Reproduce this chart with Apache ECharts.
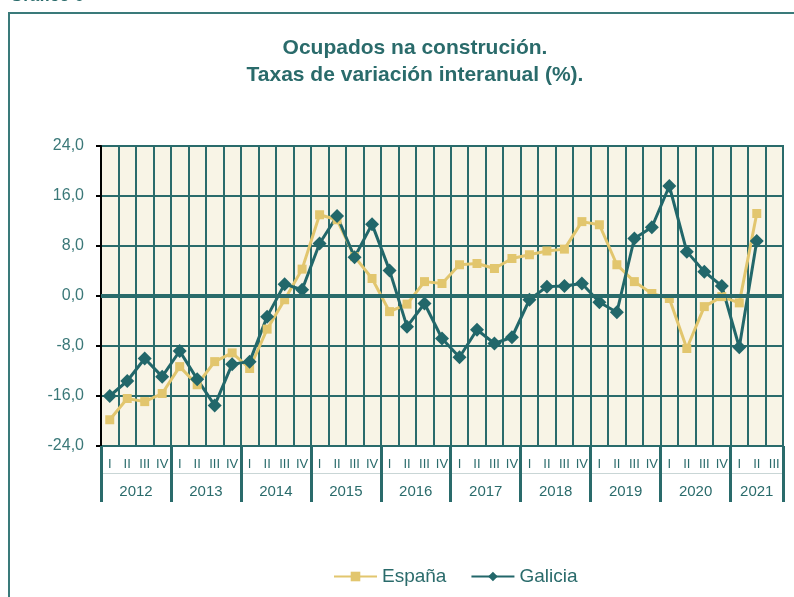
<!DOCTYPE html>
<html>
<head>
<meta charset="utf-8">
<script src="https://cdn.jsdelivr.net/npm/echarts@6/dist/echarts.min.js"></script>
<style>
  html, body { margin: 0; padding: 0; background: #fff; }
  #chart { width: 794px; height: 597px; }
</style>
</head>
<body>
<div id="chart"></div>
<script>
// datos trimestrais 2012 I - 2021 III
var years = ['2012', '2013', '2014', '2015', '2016', '2017', '2018', '2019', '2020', '2021'];
var quarters = ['I', 'II', 'III', 'IV'];
var yTicks = [-24, -16, -8, 0, 8, 16, 24];

var espana = [-19.8, -16.4, -16.9, -15.6, -11.3, -14.2, -10.5, -9.1, -11.6, -5.3,
  -0.6, 4.3, 13.0, 12.2, 6.3, 2.8, -2.5, -1.3, 2.3, 2.0,
  5.0, 5.2, 4.4, 6.0, 6.6, 7.2, 7.5, 11.9, 11.4, 5.0,
  2.3, 0.4, -0.4, -8.4, -1.7, -0.1, -1.1, 13.2];
var galicia = [-16.0, -13.6, -10.0, -12.9, -8.8, -13.3, -17.5, -10.9, -10.5, -3.3,
  1.9, 1.0, 8.4, 12.8, 6.2, 11.5, 4.1, -4.9, -1.2, -6.8,
  -9.8, -5.4, -7.6, -6.6, -0.6, 1.5, 1.6, 2.0, -1.0, -2.6,
  9.2, 11.0, 17.6, 7.1, 3.9, 1.6, -8.2, 8.8];

var teal = '#2a6b6b';
var galColor = '#22676a';
var espColor = '#e2c66e';

// categorias e limites dos anos
var cats = [];
years.forEach(function (y) {
  quarters.forEach(function (q) {
    if (y === '2021' && q === 'IV') return;
    cats.push(y + '-' + q);
  });
});
var yearBounds = [], yearMids = [];
years.forEach(function (y, i) {
  yearBounds.push(i * 4);
  var n = (y === '2021') ? 3 : 4;
  yearMids.push(i * 4 + n / 2);
});
yearBounds.push(cats.length);

var myChart = echarts.init(document.getElementById('chart'));

var option = {
  animation: false,
  textStyle: { fontFamily: 'Liberation Sans, Arial, sans-serif' },
  title: {
    text: 'Ocupados na construción.\nTaxas de variación interanual (%).',
    left: 410,
    textAlign: 'center',
    top: 30,
    textStyle: { color: teal, fontSize: 21, fontWeight: 'bold', lineHeight: 27 }
  },
  graphic: [
    {
      type: 'rect',
      shape: { x: 9, y: 13, width: 820, height: 700 },
      style: { fill: 'none', stroke: '#3a7a7a', lineWidth: 2 },
      silent: true
    },
    {
      type: 'text',
      left: 10,
      top: -12,
      style: { text: 'Gráfico 6', fill: teal, font: 'bold 17px Liberation Sans, Arial, sans-serif' },
      silent: true
    }
  ],
  legend: {
    bottom: 6,
    left: 328,
    itemWidth: 43,
    itemHeight: 12,
    itemGap: 24,
    textStyle: { color: teal, fontSize: 19 },
    data: ['España', 'Galicia']
  },
  grid: {
    left: 101,
    right: 11,
    top: 146,
    bottom: 151,
    show: true,
    backgroundColor: '#f8f4e6',
    borderColor: teal,
    borderWidth: 2
  },
  xAxis: [
    {
      type: 'category',
      data: cats,
      boundaryGap: true,
      axisLine: { show: true, lineStyle: { color: teal, width: 2 } },
      axisTick: { show: false },
      axisLabel: {
        interval: 0,
        margin: 12,
        color: teal,
        fontSize: 13,
        formatter: function (v) { return v.split('-')[1]; }
      },
      splitLine: { show: true, interval: 0, lineStyle: { color: teal, width: 2 } }
    },
    {
      type: 'value',
      position: 'bottom',
      min: 0,
      max: cats.length,
      axisLine: { show: false },
      axisTick: {
        show: true,
        length: 56,
        customValues: yearBounds,
        lineStyle: { color: teal, width: 3 }
      },
      axisLabel: {
        margin: 38,
        color: teal,
        fontSize: 15,
        customValues: yearMids,
        formatter: function (v) { return years[Math.floor(v / 4)]; }
      },
      splitLine: { show: false }
    },
    {
      type: 'category',
      position: 'bottom',
      offset: 27,
      data: cats,
      axisLine: { show: true, lineStyle: { color: '#c9d6d6', width: 1 } },
      axisTick: { show: false },
      axisLabel: { show: false },
      splitLine: { show: false }
    }
  ],
  yAxis: {
    type: 'value',
    min: yTicks[0],
    max: yTicks[yTicks.length - 1],
    interval: 8,
    axisLine: { show: true, lineStyle: { color: '#000', width: 2 } },
    axisTick: { show: true, length: 5, lineStyle: { color: '#000', width: 2 } },
    axisLabel: {
      color: '#3a7878',
      fontSize: 16,
      margin: 17,
      formatter: function (v) { return v.toFixed(1).replace('.', ','); }
    },
    splitLine: { show: true, lineStyle: { color: teal, width: 2 } }
  },
  series: [
    {
      name: 'cero',
      type: 'line',
      data: [],
      silent: true,
      markLine: {
        silent: true,
        symbol: 'none',
        label: { show: false },
        lineStyle: { color: teal, width: 4, type: 'solid' },
        data: [{ yAxis: 0 }]
      }
    },
    {
      name: 'España',
      type: 'line',
      data: espana,
      color: espColor,
      symbol: 'rect',
      symbolSize: 9,
      lineStyle: { width: 3, color: espColor },
      itemStyle: { color: espColor }
    },
    {
      name: 'Galicia',
      type: 'line',
      data: galicia,
      color: galColor,
      symbol: 'diamond',
      symbolSize: 14,
      lineStyle: { width: 3, color: galColor },
      itemStyle: { color: galColor }
    }
  ]
};

myChart.setOption(option);
</script>
</body>
</html>
